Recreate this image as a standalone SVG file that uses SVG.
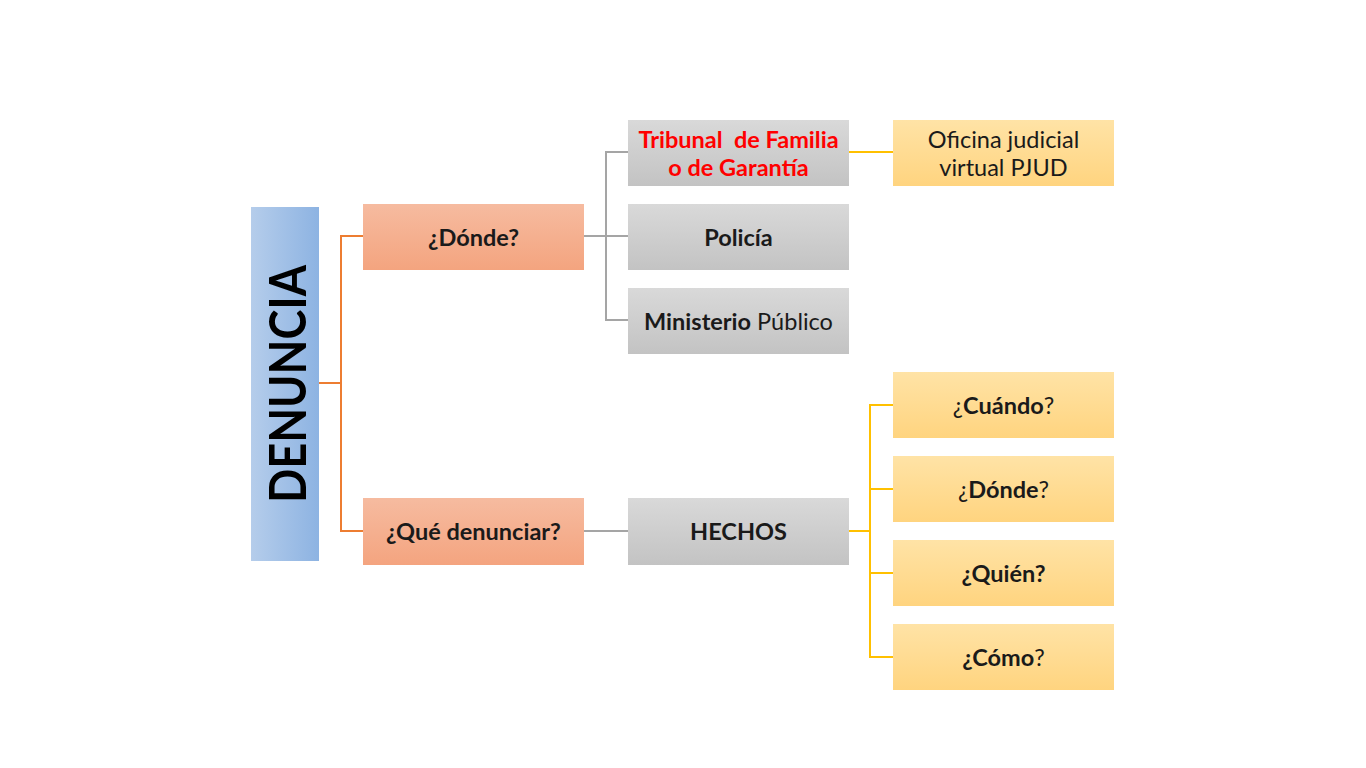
<svg xmlns="http://www.w3.org/2000/svg" width="1366" height="768" viewBox="0 0 1366 768">
<defs>
<linearGradient id="gBlue" x1="0" y1="0" x2="1" y2="0"><stop offset="0" stop-color="#b5cdeb"/><stop offset="1" stop-color="#8db3e2"/></linearGradient>
<linearGradient id="gOrange" x1="0" y1="0" x2="0" y2="1"><stop offset="0" stop-color="#f6bba0"/><stop offset="1" stop-color="#f4a47f"/></linearGradient>
<linearGradient id="gGray" x1="0" y1="0" x2="0" y2="1"><stop offset="0" stop-color="#d9d9d9"/><stop offset="1" stop-color="#c3c3c3"/></linearGradient>
<linearGradient id="gYellow" x1="0" y1="0" x2="0" y2="1"><stop offset="0" stop-color="#ffe3a6"/><stop offset="1" stop-color="#ffd47f"/></linearGradient>
</defs>
<style>
text{font-family:Lato,"Open Sans","Liberation Sans",sans-serif;font-size:23.5px;fill:#1a1a1a;text-anchor:middle;dominant-baseline:central}
.b{font-weight:bold}
.r{font-weight:normal}
.red{fill:#ff0000;font-weight:bold}
.big{font-size:52px;font-weight:bold;fill:#000}
.lo{fill:none;stroke:#ed7d31;stroke-width:2}
.lg{fill:none;stroke:#a5a5a5;stroke-width:2}
.ly{fill:none;stroke:#ffc000;stroke-width:2}
</style>
<rect width="1366" height="768" fill="#ffffff"/>
<g id="connectors">
<path class="lo" d="M319,383 H341 M363,236 H341 V531 H363"/>
<path class="lg" d="M584,236 H606 M628,152 H606 V320 H628 M606,236 H628"/>
<path class="lg" d="M584,531 H628"/>
<path class="ly" d="M849,152 H893"/>
<path class="ly" d="M849,531 H870 M893,405 H870 V657 H893 M870,489 H893 M870,573 H893"/>
</g>
<g id="denuncia">
<rect x="251" y="207" width="68" height="354" fill="url(#gBlue)"/>
<text class="big" transform="translate(286,384) rotate(-90)" textLength="238" lengthAdjust="spacingAndGlyphs">DENUNCIA</text>
</g>
<g id="donde">
<rect x="363" y="204" width="221" height="66" fill="url(#gOrange)"/>
<text class="b" x="473.5" y="237">¿Dónde?</text>
</g>
<g id="que">
<rect x="363" y="498" width="221" height="67" fill="url(#gOrange)"/>
<text class="b" x="473.5" y="531">¿Qué denunciar?</text>
</g>
<g id="tribunal">
<rect x="628" y="120" width="221" height="66" fill="url(#gGray)"/>
<text class="red" x="738.5" y="139" xml:space="preserve">Tribunal  de Familia</text>
<text class="red" x="738.5" y="167">o de Garantía</text>
</g>
<g id="policia">
<rect x="628" y="204" width="221" height="66" fill="url(#gGray)"/>
<text class="b" x="738.5" y="237">Policía</text>
</g>
<g id="ministerio">
<rect x="628" y="288" width="221" height="66" fill="url(#gGray)"/>
<text x="738.5" y="321"><tspan class="b">Ministerio</tspan> <tspan class="r">Público</tspan></text>
</g>
<g id="hechos">
<rect x="628" y="498" width="221" height="67" fill="url(#gGray)"/>
<text class="b" x="738.5" y="531">HECHOS</text>
</g>
<g id="oficina">
<rect x="893" y="120" width="221" height="66" fill="url(#gYellow)"/>
<text class="r" x="1003.5" y="139">Oficina judicial</text>
<text class="r" x="1003.5" y="167">virtual PJUD</text>
</g>
<g id="cuando">
<rect x="893" y="372" width="221" height="66" fill="url(#gYellow)"/>
<text x="1003.5" y="405"><tspan class="r">¿</tspan><tspan class="b">Cuándo</tspan><tspan class="r">?</tspan></text>
</g>
<g id="donde2">
<rect x="893" y="456" width="221" height="66" fill="url(#gYellow)"/>
<text x="1003.5" y="489"><tspan class="r">¿</tspan><tspan class="b">Dónde</tspan><tspan class="r">?</tspan></text>
</g>
<g id="quien">
<rect x="893" y="540" width="221" height="66" fill="url(#gYellow)"/>
<text class="b" x="1003.5" y="573">¿Quién?</text>
</g>
<g id="como">
<rect x="893" y="624" width="221" height="66" fill="url(#gYellow)"/>
<text x="1003.5" y="657"><tspan class="b">¿Cómo</tspan><tspan class="r">?</tspan></text>
</g>
</svg>
